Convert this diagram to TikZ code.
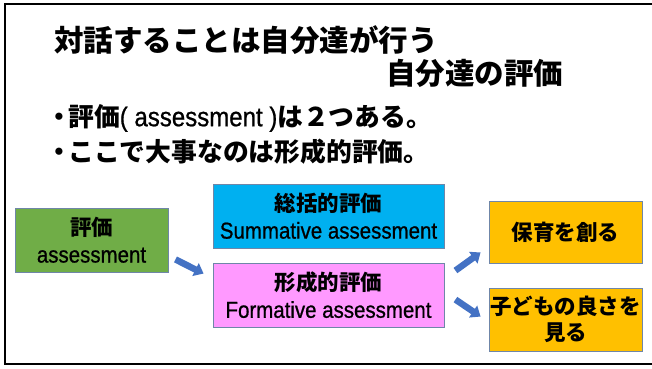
\documentclass[tikz,border=0pt]{standalone}
\usepackage{fontspec}
\setmainfont{Liberation Sans}
\newfontfamily\jp{Noto Sans CJK JP}
\newfontfamily\lat[FakeStretch=0.89,FakeBold=0.8]{Liberation Sans}
\usetikzlibrary{arrows.meta,calc}
\definecolor{boxgreen}{HTML}{70AD47}
\definecolor{boxblue}{HTML}{00B0F0}
\definecolor{boxpink}{HTML}{FF99FF}
\definecolor{boxorange}{HTML}{FFC000}
\definecolor{arrowblue}{HTML}{4472C4}
\definecolor{edgec}{HTML}{6F86A8}
\newcommand{\jb}[1]{{\jp\bfseries\fontsize{21.5}{27}\selectfont #1}}
\newcommand{\bdot}{\makebox[15pt][l]{\hspace{-7pt}{\jp\bfseries ・}}}
\begin{document}
\begin{tikzpicture}[x=1pt,y=-1pt,
  box/.style={draw=edgec, line width=0.9pt, inner sep=0pt, align=center,
    font=\lat\fontsize{23}{27}\selectfont},
  titletext/.style={anchor=west, inner sep=0pt, font=\jp\bfseries\fontsize{29.5}{34}\selectfont},
  bullettext/.style={anchor=west, inner sep=0pt, font=\fontsize{25.8}{28}\selectfont},
  blockarrow/.style={arrowblue, line width=6.5pt,
    -{Triangle[width=14pt,length=9pt]}}
]
\useasboundingbox (0,0) rectangle (652,368);
\fill[white] (0,0) rectangle (652,368);
\draw[line width=2pt] (660,4) -- (5,4) -- (5,364) -- (660,364);

\node[titletext] (t1) at (54,40) {対話することは自分達が行う};
\node[titletext] (t2) at (386,73) {自分達の評価};
\node[bullettext] (b1) at (53,118) {\bdot{\jp\bfseries 評価}{\lat\fontsize{27}{28}\selectfont( assessment )}{\jp\bfseries は２つある。}};
\node[bullettext] (b2) at (53,152) {\bdot{\jp\bfseries ここで大事なのは形成的評価。}};

\node[box, fill=boxgreen, minimum width=153pt, minimum height=64pt] (assess) at (91.5,240)
  {\jb{評価}\\assessment};
\node[box, fill=boxblue, minimum width=231pt, minimum height=64pt] (summ) at (328.5,216)
  {\jb{総括的評価}\\Summative assessment};
\node[box, fill=boxpink, minimum width=231pt, minimum height=64pt] (form) at (328.5,295)
  {\jb{形成的評価}\\Formative assessment};
\node[box, fill=boxorange, minimum width=153pt, minimum height=62pt] (hoiku) at (565.5,232)
  {\jb{保育を創る}};
\node[box, fill=boxorange, minimum width=153pt, minimum height=63pt] (kodomo) at (565.5,319.5)
  {\jb{子どもの良さを}\\[-1pt]\jb{見る}};

\coordinate (a1s) at ($(assess.south east)+(7,-13)$);
\coordinate (a1e) at ($(form.north west)+(-9,11)$);
\coordinate (a2s) at ($(form.north east)+(11,8)$);
\coordinate (a2e) at ($(hoiku.south west)+(-8,-11)$);
\coordinate (a3s) at ($(form.north east)+(11,37)$);
\coordinate (a3e) at ($(kodomo.north west)+(-8,29)$);
\draw[blockarrow] (a1s) -- (a1e);
\draw[blockarrow] (a2s) -- (a2e);
\draw[blockarrow] (a3s) -- (a3e);
\end{tikzpicture}
\end{document}
